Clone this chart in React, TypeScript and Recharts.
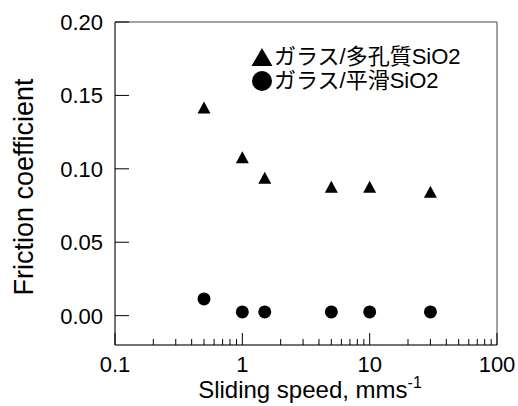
import { ScatterChart, Scatter, XAxis, YAxis, ReferenceArea, Legend } from "recharts";

const FONT = '"Liberation Sans", Arial, "Noto Sans CJK JP", sans-serif';

// sliding speed (mm/s) and friction coefficient
const speeds = [0.5, 1, 1.5, 5, 10, 30];
const porousMu = [0.1415, 0.1075, 0.0935, 0.0874, 0.0874, 0.084];
const smoothMu = [0.0114, 0.0025, 0.0025, 0.0025, 0.0025, 0.0025];

const seriesNames = ["ガラス/多孔質SiO2", "ガラス/平滑SiO2"];
const seriesShapes = ["triangle", "circle"];

const majorXTicks = [0.1, 1, 10, 100];
const xTicks = [
  0.1, 0.2, 0.3, 0.4, 0.5, 0.6, 0.7, 0.8, 0.9,
  1, 2, 3, 4, 5, 6, 7, 8, 9,
  10, 20, 30, 40, 50, 60, 70, 80, 90,
  100,
];
const yTicks = [0, 0.05, 0.1, 0.15, 0.2];

const porousData = speeds.map((s, i) => ({ speed: s, mu: porousMu[i] }));
const smoothData = speeds.map((s, i) => ({ speed: s, mu: smoothMu[i] }));

const Triangle = (props: any) => {
  const { cx, cy } = props;
  return (
    <polygon
      points={`${cx},${cy - 6.5} ${cx - 6.5},${cy + 5.5} ${cx + 6.5},${cy + 5.5}`}
      fill="#000"
    />
  );
};

const Dot = (props: any) => {
  const { cx, cy } = props;
  return <circle cx={cx} cy={cy} r={6.5} fill="#000" />;
};

const XTick = (props: any) => {
  const { x, y, payload } = props;
  const major = majorXTicks.includes(payload.value);
  return (
    <g>
      <line x1={x} x2={x} y1={y} y2={y - (major ? 12 : 6)} stroke="#000" strokeWidth={1} />
      {major && (
        <text x={x} y={y + 27} textAnchor="middle" fontSize={22} fontFamily={FONT} fill="#000">
          {String(payload.value)}
        </text>
      )}
    </g>
  );
};

const YTick = (props: any) => {
  const { x, y, payload } = props;
  return (
    <g>
      <line x1={x} x2={x + 14} y1={y} y2={y} stroke="#000" strokeWidth={1} />
      <text x={x - 12} y={y} dy="0.36em" textAnchor="end" fontSize={22} fontFamily={FONT} fill="#000">
        {payload.value.toFixed(2)}
      </text>
    </g>
  );
};

const XLabel = () => (
  <text x={310} y={398} textAnchor="middle" fontSize={24} fontFamily={FONT} fill="#000">
    Sliding speed, mms
    <tspan fontSize={16} dy={-10}>-1</tspan>
  </text>
);

const YLabel = () => (
  <text
    x={33}
    y={187}
    transform="rotate(-90 33 187)"
    textAnchor="middle"
    fontSize={27}
    fontFamily={FONT}
    fill="#000"
  >
    Friction coefficient
  </text>
);

const LegendIcon = ({ shape }: { shape: string }) => (
  <svg width={24} height={22} style={{ display: "inline-block", verticalAlign: "top", marginTop: 1 }}>
    {shape === "triangle" ? (
      <polygon points="12,2 1.5,20 22.5,20" fill="#000" />
    ) : (
      <circle cx={12} cy={11} r={10} fill="#000" />
    )}
  </svg>
);

const LegendBox = () => (
  <div style={{ fontFamily: FONT, fontSize: 22, lineHeight: "24px", color: "#000", whiteSpace: "nowrap" }}>
    {seriesNames.map((n, i) => (
      <div key={n} style={{ height: 24 }}>
        <LegendIcon shape={seriesShapes[i]} />
        {n}
      </div>
    ))}
  </div>
);

export default function App() {
  return (
    <div style={{ position: "absolute", left: 0, top: 0, background: "#fff" }}>
      <ScatterChart width={518} height={406} margin={{ top: 22, right: 21, bottom: 0, left: 0 }}>
        <XAxis
          dataKey="speed"
          type="number"
          scale="log"
          domain={[0.1, 100]}
          allowDataOverflow
          ticks={xTicks}
          interval={0}
          tick={<XTick />}
          tickLine={false}
          tickSize={0}
          tickMargin={0}
          height={61}
          axisLine={{ stroke: "#444" }}
          label={<XLabel />}
        />
        <YAxis
          dataKey="mu"
          type="number"
          domain={[-0.02, 0.2]}
          allowDataOverflow
          ticks={yTicks}
          interval={0}
          tick={<YTick />}
          tickLine={false}
          tickSize={0}
          tickMargin={0}
          width={115}
          axisLine={{ stroke: "#444" }}
          label={<YLabel />}
        />
        <ReferenceArea x1={0.1} x2={100} y1={-0.02} y2={0.2} fill="none" stroke="#444" strokeWidth={1} />
        <Legend
          layout="vertical"
          align="center"
          verticalAlign="middle"
          content={<LegendBox />}
          wrapperStyle={{ left: 250, top: 45, width: "auto" }}
        />
        <Scatter name={seriesNames[0]} data={porousData} shape={<Triangle />} isAnimationActive={false} />
        <Scatter name={seriesNames[1]} data={smoothData} shape={<Dot />} isAnimationActive={false} />
      </ScatterChart>
    </div>
  );
}
